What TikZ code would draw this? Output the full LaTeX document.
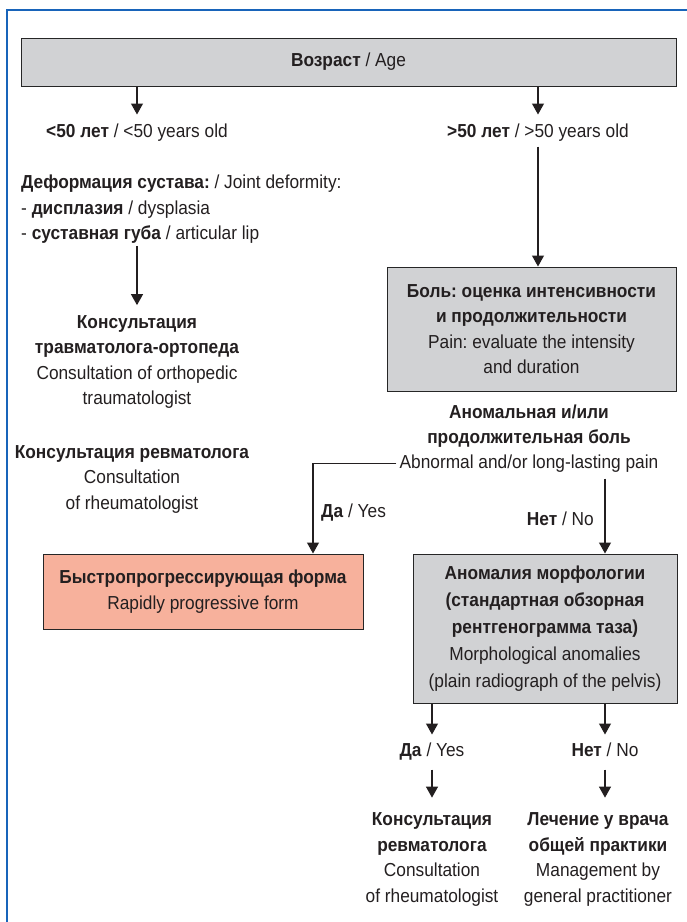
\documentclass[tikz,border=0pt]{standalone}
\usepackage{fontspec}
\setmainfont{Liberation Sans}[FakeStretch=0.92]
\usetikzlibrary{arrows.meta,positioning}
\definecolor{ink}{RGB}{35,31,32}
\definecolor{frameblue}{RGB}{24,100,186}
\definecolor{boxgray}{RGB}{209,210,212}
\definecolor{boxred}{RGB}{247,177,156}
\tikzset{
  txt/.style={font=\fontsize{18.8}{25.5}\selectfont\frenchspacing, align=center, inner sep=0pt, text=ink},
  one/.style={txt, text height=13.6pt, text depth=4pt},
  gbox/.style={txt, draw=black!85, line width=1pt, fill=boxgray},
  rbox/.style={txt, draw=black!85, line width=1pt, fill=boxred},
  arr/.style={draw=ink, line width=1.1pt, -{Triangle[length=11pt,width=12pt]}},
  ln/.style={draw=ink, line width=1.1pt}
}
\begin{document}
\begin{tikzpicture}[x=1pt,y=-1pt]
\useasboundingbox (0,0) rectangle (687,922);
\draw[frameblue, line width=2pt] (7,923) -- (7,10.3) -- (688,10.3);

\node[gbox, minimum width=655pt, minimum height=48pt] (age) at (348.5,62) {\textbf{Возраст} / Age};
\node[one] (lt50) at (137,132.5) {\textbf{<50 лет} / <50 years old};
\node[one] (gt50) at (538,132.5) {\textbf{>50 лет} / >50 years old};

\node[txt, align=left, anchor=west] (deform) at (21,209.5) {\textbf{Деформация сустава:} / Joint deformity:\\- \textbf{дисплазия} / dysplasia\\- \textbf{суставная губа} / articular lip};
\node[txt] (cons1) at (137,362) {\textbf{Консультация}\\\textbf{травматолога-ортопеда}\\Consultation of orthopedic\\traumatologist};
\node[txt] (rheum1) at (132,479) {\textbf{Консультация ревматолога}\\Consultation\\of rheumatologist};

\node[gbox, minimum width=289pt, minimum height=124pt] (pain) at (531.5,329) {\textbf{Боль: оценка интенсивности}\\\textbf{и продолжительности}\\Pain: evaluate the intensity\\and duration};

\node[txt] (abnRu) at (529,426) {\textbf{Аномальная и/или}\\\textbf{продолжительная боль}};
\node[one] (abnEn) at (529,463.5) {Abnormal and/or long-lasting pain};

\node[one, anchor=west] (yes1) at (321,513) {\textbf{Да} / Yes};
\node[one, anchor=east] (no1) at (594,521) {\textbf{Нет} / No};

\node[rbox, minimum width=320pt, minimum height=75pt] (red) at (203,591.5) {\textbf{Быстропрогрессирующая форма}\\Rapidly progressive form};

\node[gbox, minimum width=264pt, minimum height=149pt, font=\fontsize{18.8}{27}\selectfont\frenchspacing] (morph) at (545,628.5) {\textbf{Аномалия морфологии}\\\textbf{(стандартная обзорная}\\\textbf{рентгенограмма таза)}\\Morphological anomalies\\(plain radiograph of the pelvis)};

\node[one] (yes2) at (432,751.5) {\textbf{Да} / Yes};
\node[one] (no2) at (605,751.5) {\textbf{Нет} / No};

\node[txt] (rheum2) at (432,859.5) {\textbf{Консультация}\\\textbf{ревматолога}\\Consultation\\of rheumatologist};
\node[txt] (gp) at (598,859.5) {\textbf{Лечение у врача}\\\textbf{общей практики}\\Management by\\general practitioner};

% connectors
\draw[arr, shorten >=9pt] (age.south -| lt50) -- (lt50.north);
\draw[arr, shorten >=9pt] (age.south -| gt50) -- (gt50.north);
\draw[arr, shorten <=5pt] (gt50.south) -- (gt50.south |- pain.north);
\draw[arr, shorten <=2pt, shorten >=10pt] (cons1.north |- deform.south) -- (cons1.north);
\draw[arr, shorten <=3pt] (abnEn.west) -| ([xshift=110pt]red.north);
\draw[arr, shorten <=6pt] ([xshift=60pt]morph.north |- abnEn.south) -- ([xshift=60pt]morph.north);
\draw[arr, shorten >=8pt] (morph.south -| yes2) -- (yes2.north);
\draw[arr, shorten >=8pt] (morph.south -| no2) -- (no2.north);
\draw[arr, shorten <=9pt, shorten >=15pt] (yes2.south) -- (yes2.south |- rheum2.north);
\draw[arr, shorten <=9pt, shorten >=15pt] (no2.south) -- (no2.south |- gp.north);
\end{tikzpicture}
\end{document}
